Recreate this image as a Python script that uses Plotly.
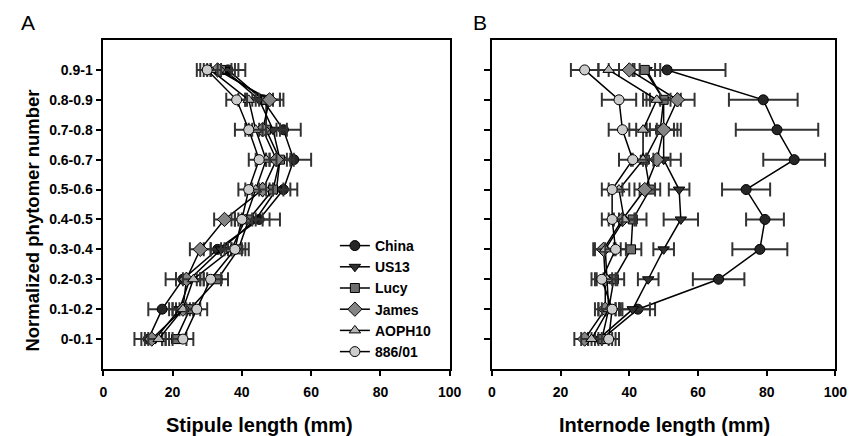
import plotly.graph_objects as go

phytomer_labels = ["0-0.1", "0.1-0.2", "0.2-0.3", "0.3-0.4", "0.4-0.5",
                   "0.5-0.6", "0.6-0.7", "0.7-0.8", "0.8-0.9", "0.9-1"]
cultivars = ["China", "US13", "Lucy", "James", "AOPH10", "886/01"]

# Stipule length (mm), panel A
stip_china = [13, 17, 23, 33, 45, 52, 55, 52, 46, 36]
stip_us13 = [15, 22, 25, 34, 44, 50, 51, 49, 45, 35]
stip_lucy = [21, 25, 33, 39, 42, 49, 51, 47, 47, 34]
stip_james = [14, 23, 24, 28, 35, 46, 50, 46, 48, 33]
stip_aoph10 = [16, 23, 26, 37, 41, 44, 47, 44, 42, 31]
stip_886 = [23, 27, 31, 38, 40, 42, 45, 42, 38.5, 30]

stip_err_china = [4, 4, 5, 4, 6, 4, 5, 5, 5, 5]
stip_err_us13 = [3, 3, 4, 3, 4, 4, 4, 4, 4, 4]
stip_err_lucy = [3, 3, 3, 3, 4, 3, 3, 4, 4, 4]
stip_err_james = [3, 3, 3, 3, 3, 3, 3, 4, 4, 4]
stip_err_aoph10 = [3, 3, 3, 3, 3, 3, 3, 3, 3, 3]
stip_err_886 = [3, 3, 3, 3, 3, 3, 3, 4, 3, 3]

# Internode length (mm), panel B
int_china = [32, 42.5, 66, 78, 79.5, 74, 88, 83, 79, 51]
int_us13 = [31, 41, 45.5, 50, 55, 54.5, 50, 50, 50, 45]
int_lucy = [32, 34, 35.5, 40.5, 41, 46, 44.5, 49, 50, 44.5]
int_james = [27, 33, 33, 32.5, 38, 44.5, 48, 50, 54, 40]
int_aoph10 = [29, 34, 33.5, 33, 38.5, 37, 44, 44, 48, 34]
int_886 = [34, 35, 32, 36, 35, 35, 41, 38, 37, 27]

int_err_china = [4, 5, 7.5, 8, 5.5, 7, 9, 12, 10, 17]
int_err_us13 = [3, 5, 3, 3, 5, 3, 5, 5, 5, 4]
int_err_lucy = [3, 3, 3, 3, 4, 3, 4, 4, 4, 3]
int_err_james = [3, 3, 3, 3, 4, 3, 4, 4, 5, 3]
int_err_aoph10 = [3, 3, 3, 3, 3, 3, 3, 4, 4, 3]
int_err_886 = [3, 3, 3, 3, 3, 3, 4, 4, 5, 4]

stipule = [stip_china, stip_us13, stip_lucy, stip_james, stip_aoph10, stip_886]
stipule_err = [stip_err_china, stip_err_us13, stip_err_lucy, stip_err_james,
               stip_err_aoph10, stip_err_886]
internode = [int_china, int_us13, int_lucy, int_james, int_aoph10, int_886]
internode_err = [int_err_china, int_err_us13, int_err_lucy, int_err_james,
                 int_err_aoph10, int_err_886]

symbols = ["circle", "triangle-down", "square", "diamond", "triangle-up", "circle"]
fills = ["#262626", "#303030", "#6e6e6e", "#858585", "#b4b4b4", "#cccccc"]
sizes = [10, 10, 9, 11, 10, 10]

ypos = list(range(len(phytomer_labels)))

fig = go.Figure()
for i, name in enumerate(cultivars):
    for vals, errs, xa, ya, show in [(stipule[i], stipule_err[i], "x", "y", True),
                                     (internode[i], internode_err[i], "x2", "y2", False)]:
        fig.add_trace(go.Scatter(
            x=vals, y=ypos, mode="lines+markers", name=name,
            xaxis=xa, yaxis=ya, showlegend=show, legendgroup=name,
            line=dict(color="black", width=1.5),
            marker=dict(symbol=symbols[i], size=sizes[i], color=fills[i],
                        line=dict(color="black", width=1)),
            error_x=dict(type="data", array=errs, visible=True,
                         color="#333333", thickness=2, width=7),
        ))

# The page body adds an 8px offset; figure coordinates are shifted to compensate.
W, H = 861, 436
FAM = "Liberation Sans, Arial, sans-serif"
axfont = dict(family=FAM, size=14, color="black", weight="bold")
xtitlefont = dict(family=FAM, size=20, color="black", weight="bold")
ytitlefont = dict(family=FAM, size=18.5, color="black", weight="bold")

top, bottom = 32, 361
ph = bottom - top

common_x = dict(range=[0, 100], tickvals=[0, 20, 40, 60, 80, 100],
                ticks="outside", ticklen=5, tickwidth=1.5, tickcolor="black",
                showline=True, linewidth=1.5, linecolor="black", mirror=True,
                showgrid=False, zeroline=False, tickfont=axfont,
                ticklabelstandoff=4)
common_y = dict(range=[-1, 10], tickvals=ypos, ticks="outside", ticklen=6,
                tickwidth=1.5, tickcolor="black", showline=True, linewidth=1.5,
                linecolor="black", mirror=True, showgrid=False, zeroline=False,
                tickfont=axfont)

fig.update_layout(
    width=W, height=H,
    margin=dict(l=0, r=0, t=top, b=H - bottom),
    paper_bgcolor="white", plot_bgcolor="white",
    font=dict(family=FAM, color="black"),
    xaxis=dict(domain=[93 / W, 446 / W], anchor="y", **common_x),
    xaxis2=dict(domain=[489 / W, 839 / W], anchor="y2", **common_x),
    yaxis=dict(domain=[0, 1], anchor="x", ticktext=phytomer_labels, **common_y),
    yaxis2=dict(domain=[0, 1], anchor="x2", showticklabels=False, **common_y),
    legend=dict(x=329 / W, y=(bottom - 222) / ph, xanchor="left", yanchor="top",
                font=dict(family=FAM, size=14, color="black", weight="bold"),
                bgcolor="rgba(0,0,0,0)", tracegroupgap=0, itemwidth=30,
                traceorder="normal"),
    annotations=[
        dict(text="A", x=16 / W, y=(bottom - 14) / ph, xref="paper", yref="paper",
             showarrow=False, font=dict(family=FAM, size=21, color="black"),
             xanchor="center", yanchor="middle"),
        dict(text="B", x=477 / W, y=(bottom - 14) / ph, xref="paper", yref="paper",
             showarrow=False, font=dict(family=FAM, size=21, color="black"),
             xanchor="center", yanchor="middle"),
        dict(text="Stipule length (mm)", x=252 / W, y=(bottom - 417) / ph,
             xref="paper", yref="paper", showarrow=False, font=xtitlefont,
             xanchor="center", yanchor="middle"),
        dict(text="Internode length (mm)", x=665 / W, y=(bottom - 417) / ph,
             xref="paper", yref="paper", showarrow=False, font=xtitlefont,
             xanchor="center", yanchor="middle"),
        dict(text="Normalized phytomer number", x=21 / W, y=3.95,
             xref="paper", yref="y", showarrow=False, font=ytitlefont,
             textangle=-90, xanchor="center", yanchor="middle"),
    ],
)

fig.write_html("out.html")
